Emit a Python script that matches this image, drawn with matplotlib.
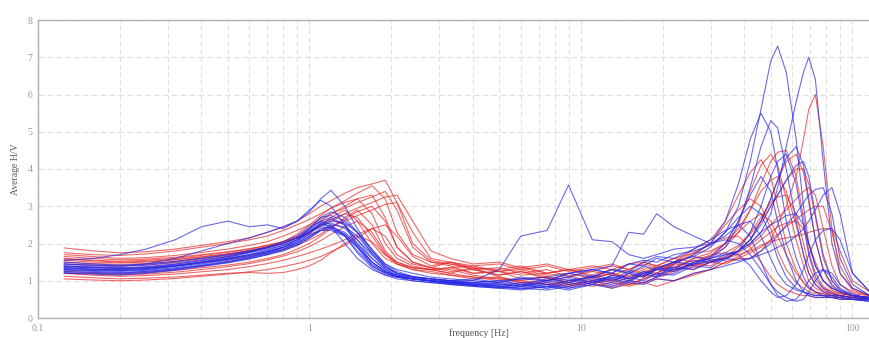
import numpy as np
import matplotlib
matplotlib.use("Agg")
import matplotlib.pyplot as plt
from matplotlib.ticker import FixedLocator, NullFormatter

# frequency grid [Hz] shared by every curve
freq = [0.125, 0.16, 0.2, 0.25, 0.32, 0.4, 0.5, 0.6, 0.7, 0.8,
        0.9, 1.0, 1.1, 1.2, 1.35, 1.5, 1.7, 1.9, 2.1, 2.4,
        2.8, 3.3, 4, 5, 6, 7.5, 9, 11, 13, 15,
        17, 19, 22, 26, 30, 34, 38, 42, 46, 50,
        53, 57, 62, 66, 69, 73, 78, 84, 90, 100, 116]

# average H/V curves, group 1 (red)
red_curves = [
    [1.88, 1.8, 1.75, 1.78, 1.85, 1.95, 2.05, 2.15, 2.3, 2.45,
     2.6, 2.8, 3.0, 3.15, 3.35, 3.5, 3.6, 3.7, 3.1, 2.0,
     1.55, 1.45, 1.35, 1.25, 1.3, 1.15, 1.2, 1.05, 1.2, 1.1,
     1.3, 1.2, 1.4, 1.3, 1.5, 1.45, 1.6, 1.6, 1.8, 2.1,
     2.5, 3.0, 3.8, 4.8, 5.6, 6.0, 4.6, 2.4, 1.2, 0.75, 0.6],
    [1.75, 1.7, 1.68, 1.72, 1.8, 1.9, 2.0, 2.1, 2.2, 2.35,
     2.5, 2.65, 2.8, 2.95, 3.15, 3.35, 3.55, 3.2, 2.3, 1.7,
     1.5, 1.45, 1.3, 1.35, 1.2, 1.3, 1.1, 1.25, 1.15, 1.3,
     1.2, 1.4, 1.35, 1.6, 1.65, 1.9, 2.3, 2.9, 3.6, 4.2,
     4.45, 4.5, 3.8, 2.7, 1.8, 1.2, 0.85, 0.7, 0.65, 0.6, 0.55],
    [1.7, 1.65, 1.6, 1.62, 1.68, 1.76, 1.85, 1.95, 2.05, 2.2,
     2.35, 2.5, 2.65, 2.8, 2.95, 3.1, 3.25, 3.4, 2.9, 1.9,
     1.5, 1.4, 1.2, 1.25, 1.05, 1.1, 0.95, 1.1, 1.0, 1.15,
     1.1, 1.3, 1.25, 1.45, 1.4, 1.65, 1.8, 2.1, 2.6, 3.2,
     3.7, 4.2, 4.4, 3.9, 3.1, 2.1, 1.3, 0.85, 0.7, 0.6, 0.55],
    [1.55, 1.5, 1.48, 1.5, 1.56, 1.64, 1.72, 1.82, 1.92, 2.05,
     2.2, 2.4, 2.6, 2.8, 3.0, 3.2, 3.3, 2.7, 1.9, 1.5,
     1.35, 1.5, 1.3, 1.15, 1.25, 1.05, 1.15, 0.95, 1.05, 0.9,
     1.05, 1.2, 1.5, 1.85, 2.1, 2.6, 3.3, 3.9, 4.25, 3.8,
     3.0, 2.0, 1.3, 0.95, 0.8, 0.7, 0.65, 0.6, 0.6, 0.55, 0.5],
    [1.45, 1.42, 1.4, 1.42, 1.48, 1.56, 1.66, 1.78, 1.9, 2.05,
     2.25, 2.5, 2.75, 2.95, 3.1, 3.2, 2.8, 2.0, 1.6, 1.4,
     1.3, 1.2, 1.35, 1.1, 1.0, 1.1, 0.9, 1.0, 0.85, 1.0,
     0.95, 1.1, 1.25, 1.5, 1.65, 2.0, 2.6, 3.4, 4.1, 4.4,
     4.1, 3.2, 2.1, 1.4, 1.0, 0.8, 0.7, 0.65, 0.6, 0.55, 0.5],
    [1.6, 1.55, 1.52, 1.55, 1.6, 1.68, 1.76, 1.85, 1.95, 2.05,
     2.15, 2.25, 2.35, 2.45, 2.6, 2.75, 2.9, 3.05, 3.1, 2.3,
     1.6, 1.5, 1.4, 1.45, 1.3, 1.4, 1.25, 1.35, 1.45, 1.3,
     1.5, 1.4, 1.6, 1.5, 1.7, 1.75, 1.95, 2.25, 2.6, 3.0,
     3.3, 3.7, 4.0, 4.0, 3.6, 2.7, 1.6, 1.0, 0.75, 0.65, 0.6],
    [1.38, 1.35, 1.33, 1.35, 1.4, 1.48, 1.56, 1.65, 1.75, 1.85,
     1.95, 2.1, 2.25, 2.45, 2.65, 2.85, 3.0, 2.6, 1.9, 1.5,
     1.35, 1.25, 1.3, 1.15, 1.25, 1.1, 1.0, 1.1, 1.2, 1.05,
     1.2, 1.35, 1.3, 1.6, 1.75, 2.0, 2.4, 2.9, 3.4, 3.7,
     3.8, 3.4, 2.5, 1.7, 1.2, 0.9, 0.75, 0.65, 0.6, 0.55, 0.5],
    [1.25, 1.22, 1.2, 1.22, 1.28, 1.35, 1.42, 1.5, 1.6, 1.7,
     1.85, 2.0, 2.2, 2.4, 2.7, 2.9, 2.5, 1.8, 1.5, 1.35,
     1.3, 1.2, 1.1, 1.0, 0.9, 0.95, 0.85, 0.95, 1.0, 0.9,
     1.05, 1.2, 1.45, 1.7, 2.0, 2.5, 2.9, 3.2, 3.0, 2.4,
     1.8, 1.3, 0.95, 0.8, 0.7, 0.65, 0.6, 0.6, 0.55, 0.5, 0.5],
    [1.5, 1.46, 1.44, 1.46, 1.52, 1.6, 1.68, 1.78, 1.88, 2.0,
     2.15, 2.3, 2.5, 2.65, 2.8, 2.7, 2.2, 1.7, 1.5, 1.35,
     1.3, 1.35, 1.2, 1.25, 1.15, 1.2, 1.3, 1.15, 1.3, 1.2,
     1.35, 1.3, 1.45, 1.4, 1.55, 1.6, 1.75, 1.95, 2.2, 2.5,
     2.7, 2.9, 3.2, 3.4, 3.5, 3.3, 2.4, 1.4, 0.9, 0.7, 0.6],
    [1.2, 1.18, 1.16, 1.18, 1.23, 1.3, 1.38, 1.46, 1.56, 1.66,
     1.78, 1.92, 2.08, 2.25, 2.45, 2.6, 2.3, 1.75, 1.45, 1.3,
     1.25, 1.15, 1.1, 1.05, 1.0, 0.9, 0.95, 0.85, 0.95, 0.85,
     0.95, 1.05, 1.0, 1.2, 1.3, 1.5, 1.6, 1.75, 1.9, 2.1,
     2.25, 2.45, 2.65, 2.8, 2.9, 3.0, 3.0, 2.3, 1.4, 0.8, 0.6],
    [1.2, 1.15, 1.12, 1.14, 1.18, 1.24, 1.3, 1.38, 1.46, 1.55,
     1.65, 1.75, 1.85, 1.95, 2.1, 2.25, 2.4, 2.5, 2.2, 1.65,
     1.4, 1.5, 1.35, 1.3, 1.4, 1.2, 1.3, 1.1, 1.2, 1.05,
     1.15, 1.1, 1.3, 1.35, 1.5, 1.65, 1.9, 2.3, 2.7, 3.1,
     3.25, 3.3, 2.8, 2.0, 1.4, 1.0, 0.8, 0.7, 0.6, 0.55, 0.5],
    [1.65, 1.6, 1.56, 1.58, 1.63, 1.7, 1.78, 1.86, 1.95, 2.05,
     2.15, 2.3, 2.45, 2.6, 2.8, 2.95, 3.1, 3.25, 3.3, 2.6,
     1.8, 1.6, 1.45, 1.5, 1.35, 1.45, 1.3, 1.4, 1.3, 1.45,
     1.5, 1.4, 1.6, 1.75, 1.8, 2.0, 2.3, 2.6, 2.8, 2.6,
     2.2, 1.7, 1.2, 0.95, 0.8, 0.7, 0.65, 0.6, 0.6, 0.55, 0.55],
    [1.05, 1.02, 1.0, 1.02, 1.06, 1.12, 1.18, 1.24, 1.3, 1.38,
     1.46, 1.55, 1.65, 1.78, 1.95, 2.15, 2.4, 2.2, 1.7, 1.45,
     1.35, 1.3, 1.15, 1.05, 0.95, 0.9, 0.85, 0.95, 0.8, 0.9,
     0.95, 0.85, 1.0, 1.15, 1.3, 1.5, 1.65, 1.85, 2.1, 2.3,
     2.45, 2.55, 2.6, 2.4, 2.0, 1.5, 1.0, 0.75, 0.65, 0.6, 0.55],
    [1.12, 1.08, 1.05, 1.07, 1.1, 1.15, 1.2, 1.22, 1.2, 1.22,
     1.3, 1.4, 1.55, 1.75, 2.0, 2.2, 2.05, 1.7, 1.45, 1.3,
     1.2, 1.15, 1.05, 1.1, 0.95, 1.0, 0.9, 1.0, 1.1, 1.0,
     1.15, 1.3, 1.5, 1.75, 2.0, 2.15, 2.2, 1.9, 1.5, 1.1,
     0.9, 0.75, 0.65, 0.6, 0.6, 0.55, 0.55, 0.55, 0.5, 0.5, 0.5],
    [1.58, 1.54, 1.5, 1.52, 1.57, 1.64, 1.72, 1.8, 1.9, 2.0,
     2.15, 2.3, 2.5, 2.7, 2.9, 2.6, 2.0, 1.6, 1.45, 1.35,
     1.3, 1.35, 1.4, 1.25, 1.35, 1.2, 1.3, 1.25, 1.4, 1.3,
     1.45, 1.35, 1.5, 1.4, 1.55, 1.6, 1.7, 1.8, 1.95, 2.05,
     2.1, 2.15, 2.2, 2.25, 2.3, 2.35, 2.4, 2.4, 1.8, 1.0, 0.7],
]

# average H/V curves, group 2 (blue)
blue_curves = [
    [1.3, 1.27, 1.25, 1.28, 1.35, 1.45, 1.55, 1.65, 1.75, 1.85,
     2.0, 2.25, 2.55, 2.45, 2.0, 1.6, 1.3, 1.15, 1.1, 1.05,
     1.0, 0.95, 0.9, 0.85, 0.9, 0.8, 0.95, 1.05, 0.95, 1.2,
     1.1, 1.35, 1.5, 1.65, 1.9, 2.3, 3.0, 4.2, 5.6, 6.9,
     7.3, 6.6, 4.8, 3.0, 2.0, 1.4, 1.0, 0.8, 0.7, 0.6, 0.55],
    [1.55, 1.6, 1.7, 1.85, 2.1, 2.45, 2.6, 2.45, 2.5, 2.4,
     2.6, 2.85, 3.2, 3.43, 3.0, 2.4, 1.8, 1.45, 1.3, 1.2,
     1.1, 1.05, 1.0, 0.95, 1.05, 1.0, 1.2, 1.1, 1.3, 1.2,
     1.4, 1.3, 1.5, 1.45, 1.6, 1.7, 1.8, 2.0, 2.3, 2.8,
     3.5, 4.6, 5.8, 6.6, 7.0, 6.4, 4.2, 2.0, 1.2, 0.8, 0.6],
    [1.45, 1.4, 1.38, 1.45, 1.6, 1.8, 2.0, 2.15, 2.3, 2.45,
     2.6, 2.9, 3.16, 3.0, 2.5, 1.9, 1.4, 1.2, 1.1, 1.05,
     1.0, 0.98, 0.9, 0.85, 0.8, 0.9, 0.8, 0.95, 1.05, 0.95,
     1.2, 1.1, 1.45, 1.7, 2.0, 2.6, 3.6, 4.8, 5.5, 5.0,
     4.0, 2.6, 1.6, 1.1, 0.85, 0.7, 0.6, 0.55, 0.55, 0.5, 0.5],
    [1.35, 1.3, 1.28, 1.3, 1.4, 1.5, 1.6, 1.7, 1.8, 1.9,
     2.1, 2.4, 2.7, 2.75, 2.6, 2.3, 1.8, 1.4, 1.2, 1.1,
     1.05, 1.0, 0.95, 0.92, 0.85, 0.95, 1.05, 0.9, 1.15, 1.05,
     1.25, 1.15, 1.3, 1.45, 1.6, 1.9, 2.5, 3.5, 4.6, 5.3,
     5.1, 4.0, 2.6, 1.7, 1.2, 0.9, 0.7, 0.6, 0.6, 0.55, 0.5],
    [1.25, 1.22, 1.2, 1.25, 1.32, 1.4, 1.5, 1.62, 1.75, 1.9,
     2.05, 2.3, 2.5, 2.55, 2.4, 2.1, 1.7, 1.35, 1.2, 1.1,
     1.05, 1.0, 0.9, 0.85, 0.8, 0.75, 0.85, 1.0, 0.9, 1.1,
     1.0, 1.2, 1.15, 1.4, 1.35, 1.6, 1.8, 2.1, 2.6, 3.2,
     3.7, 4.3, 4.6, 4.1, 3.2, 2.1, 1.3, 0.9, 0.7, 0.6, 0.55],
    [1.4, 1.36, 1.33, 1.35, 1.42, 1.5, 1.62, 1.75, 1.85, 1.95,
     2.1, 2.3, 2.45, 2.4, 2.2, 1.8, 1.4, 1.2, 1.1, 1.05,
     1.0, 0.95, 0.9, 0.95, 0.85, 1.0, 1.1, 0.95, 1.15, 1.05,
     1.25, 1.15, 1.35, 1.3, 1.5, 1.55, 1.8, 2.3, 3.0, 3.8,
     4.2, 4.4, 3.6, 2.5, 1.7, 1.1, 0.8, 0.65, 0.6, 0.55, 0.5],
    [1.2, 1.18, 1.15, 1.2, 1.28, 1.38, 1.48, 1.58, 1.7, 1.82,
     1.95, 2.15, 2.35, 2.5, 2.45, 2.2, 1.75, 1.4, 1.2, 1.1,
     1.0, 0.92, 0.88, 0.82, 0.78, 0.85, 0.75, 0.9, 0.8, 0.95,
     0.9, 1.05, 1.0, 1.2, 1.3, 1.4, 1.5, 1.6, 1.8, 2.0,
     2.2, 2.5, 2.8, 3.1, 3.3, 3.45, 3.5, 2.8, 1.6, 0.9, 0.6],
    [1.5, 1.45, 1.42, 1.45, 1.52, 1.6, 1.7, 1.8, 1.9, 2.0,
     2.15, 2.35, 2.6, 2.7, 2.5, 2.0, 1.5, 1.25, 1.15, 1.1,
     1.05, 1.0, 1.05, 0.95, 1.1, 1.0, 1.2, 1.3, 1.2, 1.45,
     1.4, 1.6, 1.5, 1.65, 1.55, 1.6, 1.55, 1.6, 1.7, 1.8,
     1.9, 2.0, 2.2, 2.4, 2.6, 2.9, 3.3, 3.5, 2.8, 1.2, 0.7],
    [1.3, 1.28, 1.27, 1.3, 1.38, 1.48, 1.58, 1.68, 1.78, 1.9,
     2.0, 2.2, 2.35, 2.35, 2.2, 1.9, 1.5, 1.25, 1.1, 1.0,
     0.95, 0.9, 0.85, 0.8, 0.85, 0.8, 0.9, 1.0, 1.1, 1.0,
     1.2, 1.3, 1.25, 1.5, 1.6, 1.75, 1.7, 1.4, 1.0, 0.7,
     0.55, 0.6, 0.9, 1.3, 1.7, 2.1, 2.35, 2.4, 2.1, 1.2, 0.7],
    [1.4, 1.37, 1.35, 1.38, 1.45, 1.55, 1.65, 1.78, 1.9, 2.05,
     2.2, 2.45, 2.6, 2.5, 2.2, 1.75, 1.35, 1.15, 1.05, 1.0,
     0.95, 0.92, 0.88, 0.9, 0.85, 1.0, 1.1, 1.3, 1.2, 1.45,
     1.55, 1.5, 1.7, 1.8, 1.95, 2.3, 2.7, 3.0, 2.8, 2.2,
     1.6, 1.1, 0.8, 0.7, 0.65, 0.6, 0.6, 0.6, 0.55, 0.5, 0.45],
    [1.33, 1.3, 1.3, 1.33, 1.4, 1.5, 1.6, 1.7, 1.82, 1.95,
     2.1, 2.3, 2.5, 2.6, 2.55, 2.3, 1.85, 1.45, 1.25, 1.12,
     1.05, 1.0, 0.95, 1.0, 0.9, 1.05, 0.95, 1.15, 1.05, 1.25,
     1.15, 1.35, 1.3, 1.45, 1.5, 1.6, 1.8, 2.1, 2.5, 3.0,
     3.3, 3.7, 4.1, 4.2, 3.8, 2.8, 1.7, 1.0, 0.75, 0.6, 0.55],
    [1.28, 1.25, 1.22, 1.25, 1.32, 1.42, 1.52, 1.62, 1.72, 1.85,
     2.0, 2.2, 2.4, 2.45, 2.3, 2.0, 1.6, 1.3, 1.15, 1.05,
     1.0, 0.95, 0.88, 0.82, 0.9, 0.85, 1.0, 1.1, 1.3, 1.25,
     1.5, 1.65, 1.6, 1.85, 2.1, 2.35, 2.5, 2.2, 1.5, 0.9,
     0.6, 0.45, 0.5, 0.75, 1.0, 1.2, 1.3, 1.1, 0.8, 0.6, 0.5],
    [1.45, 1.42, 1.4, 1.42, 1.5, 1.6, 1.7, 1.8, 1.9, 2.0,
     2.15, 2.4, 2.7, 2.85, 2.7, 2.3, 1.7, 1.35, 1.2, 1.1,
     1.05, 1.0, 1.0, 1.3, 2.2, 2.35, 3.57, 2.1, 2.05, 1.7,
     1.6, 1.7, 1.85, 1.9, 2.0, 2.1, 2.0, 1.7, 1.3, 0.9,
     0.7, 0.55, 0.45, 0.5, 0.7, 1.0, 1.3, 1.2, 0.9, 0.65, 0.5],
    [1.35, 1.32, 1.3, 1.33, 1.4, 1.48, 1.58, 1.68, 1.78, 1.9,
     2.05, 2.3, 2.55, 2.65, 2.5, 2.1, 1.6, 1.3, 1.15, 1.05,
     1.0, 0.95, 0.95, 1.0, 1.05, 1.1, 1.2, 1.3, 1.4, 2.3,
     2.25, 2.8, 2.45, 2.2, 2.0, 2.2, 2.5, 2.6, 2.2, 1.6,
     1.2, 0.9, 0.75, 0.7, 0.65, 0.6, 0.6, 0.55, 0.55, 0.5, 0.45],
    [1.22, 1.2, 1.18, 1.22, 1.3, 1.4, 1.5, 1.6, 1.7, 1.8,
     1.95, 2.15, 2.35, 2.4, 2.25, 1.95, 1.5, 1.25, 1.12, 1.05,
     0.98, 0.9, 0.85, 0.8, 0.75, 0.85, 0.8, 0.9, 0.85, 1.0,
     0.95, 1.1, 1.2, 1.45, 1.65, 2.0, 2.6, 3.3, 3.8, 3.4,
     2.6, 1.7, 1.0, 0.7, 0.6, 0.55, 0.55, 0.55, 0.5, 0.5, 0.45],
    [1.38, 1.35, 1.33, 1.36, 1.44, 1.54, 1.64, 1.76, 1.88, 2.0,
     2.15, 2.35, 2.5, 2.45, 2.25, 1.9, 1.45, 1.22, 1.12, 1.05,
     1.0, 0.97, 0.93, 0.88, 0.95, 0.9, 1.0, 1.1, 1.0, 1.2,
     1.1, 1.3, 1.35, 1.55, 1.5, 1.7, 1.8, 2.0, 2.3, 2.5,
     2.6, 2.75, 2.8, 2.5, 2.0, 1.4, 1.0, 0.8, 0.7, 0.6, 0.55],
]

x_ticks = [0.1, 1, 10, 100]
x_tick_labels = ["0.1", "1", "10", "100"]
y_ticks = [0, 1, 2, 3, 4, 5, 6, 7, 8]

plt.rcParams["font.family"] = ["Liberation Serif", "DejaVu Serif"]

fig = plt.figure(figsize=(8.7, 3.38), dpi=100)
ax = fig.add_axes([38 / 870, 20 / 338, 1 - 38 / 870, 298 / 338])

for curve in red_curves:
    ax.plot(freq, curve, color="#e52a2a", lw=0.8, alpha=0.7)
for curve in blue_curves:
    ax.plot(freq, curve, color="#2a2ae5", lw=0.8, alpha=0.7)

ax.set_xscale("log")
ax.set_xlim(0.1, 116)
ax.set_ylim(0, 8)

ax.xaxis.set_major_locator(FixedLocator(x_ticks))
ax.set_xticklabels(x_tick_labels)
ax.xaxis.set_minor_formatter(NullFormatter())
ax.set_yticks(y_ticks)

grid_col = "#dedede"
ax.grid(True, which="major", color=grid_col, lw=0.8, ls=(0, (5, 3)))
ax.grid(True, which="minor", axis="x", color=grid_col, lw=0.7, ls=(0, (5, 3)))
ax.set_axisbelow(True)

ax.tick_params(which="both", length=0, labelsize=7, labelcolor="#999999", pad=4)
for side in ["left", "bottom", "top"]:
    ax.spines[side].set_color("#b0b0b0")
    ax.spines[side].set_linewidth(1.0)
ax.spines["right"].set_visible(False)

ax.set_ylabel("Average H/V", fontsize=7, color="#555555")
ax.set_xlabel("frequency [Hz]", fontsize=7, color="#555555", labelpad=1)
ax.xaxis.set_label_coords(0.53, -0.035)
ax.yaxis.set_label_coords(-0.022, 0.5)

fig.savefig("out.png", dpi=100)
